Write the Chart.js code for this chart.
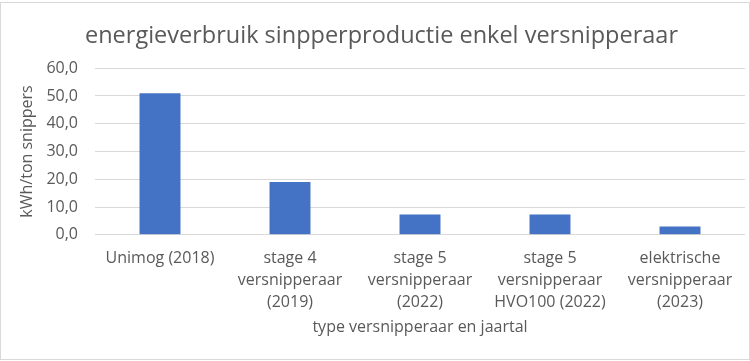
<!DOCTYPE html>
<html>
<head>
<meta charset="utf-8">
<script src="https://cdn.jsdelivr.net/npm/chart.js@4"></script>
<style>
  html, body { margin: 0; padding: 0; background: #fff; }
  #frame { position: absolute; left: 0; top: 2px; width: 748px; height: 356px; border: 1px solid #d9d9d9; }
  #wrap { position: absolute; left: 0; top: 0; width: 750px; height: 361px; }
</style>
</head>
<body>
<div id="frame"></div>
<div id="wrap"><canvas id="chart" width="750" height="361"></canvas></div>
<script>
// chart data
const categories = [
    'Unimog (2018)',
    ['stage 4', 'versnipperaar', '(2019)'],
    ['stage 5', 'versnipperaar', '(2022)'],
    ['stage 5', 'versnipperaar', 'HVO100 (2022)'],
    ['elektrische', 'versnipperaar', '(2023)']
];
const energyValues = [51.0, 19.0, 7.3, 7.3, 3.0];
const yTicks = [0, 10, 20, 30, 40, 50, 60];

const textColor = '#595959';
const fontFamily = "'Open Sans', sans-serif";

const ctx = document.getElementById('chart').getContext('2d');
new Chart(ctx, {
    type: 'bar',
    data: {
        labels: categories,
        datasets: [{
            label: 'kWh/ton snippers',
            data: energyValues,
            backgroundColor: '#4472C4',
            borderWidth: 0,
            categoryPercentage: 1,
            barPercentage: 0.315
        }]
    },
    options: {
        responsive: false,
        animation: false,
        devicePixelRatio: 1,
        layout: { padding: { top: 22, left: 18, right: 5, bottom: 24 } },
        plugins: {
            legend: { display: false },
            tooltip: { enabled: false },
            title: {
                display: true,
                text: 'energieverbruik sinpperproductie enkel versnipperaar',
                color: textColor,
                font: { family: fontFamily, size: 23.5, weight: 'normal', lineHeight: 1.2 },
                padding: { top: 0, bottom: 18 }
            }
        },
        scales: {
            x: {
                grid: { display: false },
                border: { display: false },
                ticks: {
                    color: textColor,
                    font: { family: fontFamily, size: 16, lineHeight: 1.375 },
                    maxRotation: 0,
                    autoSkip: false,
                    padding: 5
                },
                title: {
                    display: true,
                    text: 'type versnipperaar en jaartal',
                    color: textColor,
                    font: { family: fontFamily, size: 16, lineHeight: 1.2 },
                    padding: { top: -1, bottom: 0 }
                }
            },
            y: {
                min: 0,
                max: 60,
                afterBuildTicks: (axis) => { axis.ticks = yTicks.map(v => ({ value: v })); },
                afterFit: (axis) => { axis.width = 77; },
                grid: { color: '#d9d9d9', lineWidth: 1, drawTicks: false },
                border: { display: false },
                ticks: {
                    color: textColor,
                    font: { family: fontFamily, size: 16 },
                    padding: 17,
                    callback: (v) => v.toFixed(1).replace('.', ',')
                },
                title: {
                    display: true,
                    text: 'kWh/ton snippers',
                    color: textColor,
                    font: { family: fontFamily, size: 16 },
                    padding: { top: 0, bottom: 4 }
                }
            }
        }
    }
});
</script>
</body>
</html>
